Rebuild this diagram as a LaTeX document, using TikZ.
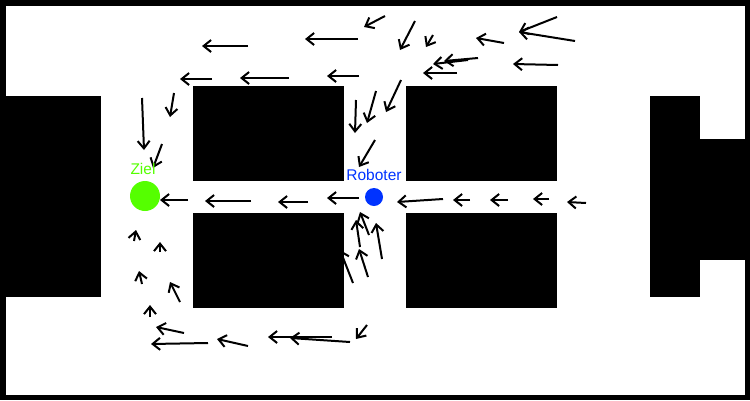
\documentclass[tikz,border=0pt]{standalone}
\usepackage{fontspec}
\setmainfont{Liberation Sans}
\usetikzlibrary{arrows.meta}
\definecolor{zielgruen}{RGB}{85,255,0}
\definecolor{roboblau}{RGB}{0,51,255}
\tikzset{
  pfeil/.style={line width=2pt, -{Straight Barb[length=7.5pt,width=12pt]}},
  hindernis/.style={fill=black},
  punkt/.style={circle, inner sep=0pt, minimum size=#1},
}
\begin{document}
\begin{tikzpicture}[x=1pt, y=-1pt, font=\fontsize{15.5}{18}\selectfont]
    \useasboundingbox (0,0) rectangle (750,400);
    \fill[black] (0,0) rectangle (750,400);
    \fill[white] (6,6) rectangle (745,395);
    % Feld der Fahrtrichtungen
    \foreach \xa/\ya/\xb/\yb in {248/46/202/46, 358/39/305/39, 385/16/364/27, 415/21/400/50,
        433/35/426/47, 504/43/476/38, 557/17/519/32, 575/41/519/32, 478/58/444/61,
        468/60/433/64, 558/65/513/64, 457/73/423/73, 212/79/180/79, 289/78/240/78,
        359/76/327/76, 142/98/144/150, 174/93/170/117, 162/144/153/168}
    \draw[pfeil] (\xa,\ya) -- (\xb,\yb);
    \foreach \xa/\ya/\xb/\yb in {188/200/160/200, 251/201/205/201, 308/202/278/202,
        359/198/327/198, 443/199/397/202, 470/200/453/200, 508/200/490/200,
        549/199/533/199, 586/203/567/202}
    \draw[pfeil] (\xa,\ya) -- (\xb,\yb);
    \foreach \xa/\ya/\xb/\yb in {356/100/355/133, 376/91/367/123, 401/80/386/112,
        375/140/359/167, 369/235/360/212, 360/247/356/220, 382/259/376/223,
        368/277/359/249, 353/283/340/250}
    \draw[pfeil] (\xa,\ya) -- (\xb,\yb);
    \foreach \xa/\ya/\xb/\yb in {134/241/136/230, 160/252/160/242, 142/284/139/271,
        180/302/170/282, 150/317/150/305, 184/333/156/327, 208/343/151/344,
        248/346/217/339, 332/337/268/337, 350/342/290/338, 367/325/356/339}
    \draw[pfeil] (\xa,\ya) -- (\xb,\yb);
    % Hindernisse
    \fill[hindernis] (0,96) rectangle (101,297);
    \fill[hindernis] (650,96) rectangle (700,297);
    \fill[hindernis] (700,139) rectangle (750,260);
    \foreach \x in {193,406}
    \foreach \y in {86,213}
    \fill[hindernis] (\x,\y) rectangle ++(151,95);
    \node[punkt=30pt, fill=zielgruen,
      label={[text=zielgruen, inner sep=0pt, label distance=6pt, xshift=-2pt]above:Ziel}] (ziel) at (145,196) {};
    \node[punkt=18pt, fill=roboblau,
      label={[text=roboblau, inner sep=0pt, label distance=7pt]above:Roboter}] (roboter) at (374,197) {};
\end{tikzpicture}
\end{document}
